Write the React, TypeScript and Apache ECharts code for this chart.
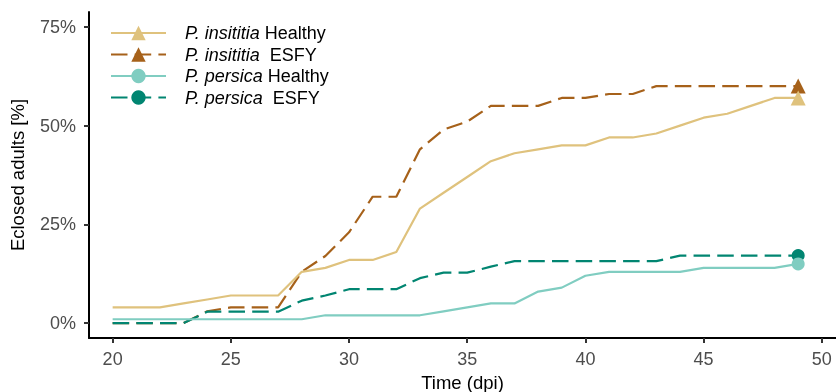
import React, { useEffect, useRef } from "react";
import * as echarts from "echarts";

const days = [20, 21, 22, 23, 24, 25, 26, 27, 28, 29, 30, 31, 32, 33, 34, 35, 36, 37, 38, 39, 40, 41, 42, 43, 44, 45, 46, 47, 48, 49];
const insititiaHealthy = [4, 4, 4, 5, 6, 7, 7, 7, 13, 14, 16, 16, 18, 29, 33, 37, 41, 43, 44, 45, 45, 47, 47, 48, 50, 52, 53, 55, 57, 57];
const insititiaEsfy = [0, 0, 0, 0, 3, 4, 4, 4, 13, 17, 23, 32, 32, 44, 49, 51, 55, 55, 55, 57, 57, 58, 58, 60, 60, 60, 60, 60, 60, 60];
const persicaHealthy = [1, 1, 1, 1, 1, 1, 1, 1, 1, 2, 2, 2, 2, 2, 3, 4, 5, 5, 8, 9, 12, 13, 13, 13, 13, 14, 14, 14, 14, 15];
const persicaEsfy = [0, 0, 0, 0, 2.9, 2.9, 2.9, 2.9, 5.7, 7, 8.6, 8.6, 8.6, 11.4, 12.8, 12.8, 14.3, 15.7, 15.7, 15.7, 15.7, 15.7, 15.7, 15.7, 17.1, 17.1, 17.1, 17.1, 17.1, 17.1];
const yTicks = [0, 25, 50, 75];
const xTicks = [20, 25, 30, 35, 40, 45, 50];

const FONT = "Liberation Sans, Arial, sans-serif";

export default function App() {
  const ref = useRef<HTMLDivElement>(null);
  useEffect(() => {
    const chart = echarts.init(ref.current!, null, { renderer: "svg" });
    const last = days.length - 1;
    const mk = (
      name: string,
      values: number[],
      color: string,
      dashed: boolean,
      symbol: string,
      size: number,
      z: number
    ) => ({
      name,
      type: "line",
      data: values.map((v, i) => [days[i], v]),
      symbol,
      symbolSize: (_v: any, p: any) => (p.dataIndex === last ? size : 0),
      showSymbol: true,
      z,
      itemStyle: { color, opacity: 1 },
      lineStyle: { color, width: 2.2, type: dashed ? [16.5, 7.2] : "solid", cap: "butt" },
      emphasis: { disabled: true },
    });
    chart.setOption({
      animation: false,
      grid: { left: 89, top: 12, width: 747, height: 326, containLabel: false, outerBoundsMode: "none" },
      legend: {
        left: 110,
        top: 24,
        padding: 0,
        orient: "vertical",
        itemWidth: 55,
        itemHeight: 18,
        itemGap: 3.5,
        selectedMode: false,
        data: ["insH", "insE", "perH", "perE"],
        formatter: (n: string) => {
          const m: Record<string, string> = {
            insH: "{s|}{i|P. insititia} Healthy",
            insE: "{s|}{i|P. insititia}  ESFY",
            perH: "{s|}{i|P. persica} Healthy",
            perE: "{s|}{i|P. persica}  ESFY",
          };
          return m[n];
        },
        textStyle: {
          fontFamily: FONT,
          fontSize: 18,
          color: "#000",
          lineHeight: 18,
          rich: {
            s: { width: 14 },
            i: { fontStyle: "italic", fontFamily: FONT, fontSize: 18, color: "#000" },
          },
        },
      },
      xAxis: {
        type: "value",
        min: 19,
        max: 50.6,
        name: "Time (dpi)",
        nameLocation: "middle",
        nameGap: 34,
        nameTextStyle: { fontFamily: FONT, fontSize: 18.5, color: "#000" },
        axisLine: { onZero: false, lineStyle: { color: "#000", width: 2 } },
        axisTick: { customValues: xTicks, length: 5, lineStyle: { color: "#333", width: 2 } },
        axisLabel: { customValues: xTicks, fontFamily: FONT, fontSize: 18, color: "#4D4D4D", margin: 12 },
        splitLine: { show: false },
      },
      yAxis: {
        type: "value",
        min: -3.75,
        max: 78.75,
        name: "Eclosed adults [%]",
        nameLocation: "middle",
        nameGap: 62,
        nameTextStyle: { fontFamily: FONT, fontSize: 18.5, color: "#000" },
        axisLine: { show: true, onZero: false, lineStyle: { color: "#000", width: 2 } },
        axisTick: { show: true, customValues: yTicks, length: 5, lineStyle: { color: "#333", width: 2 } },
        axisLabel: {
          customValues: yTicks,
          fontFamily: FONT,
          fontSize: 18,
          color: "#4D4D4D",
          margin: 13,
          formatter: (v: number) => `${v}%`,
        },
        splitLine: { show: false },
      },
      series: [
        mk("insH", insititiaHealthy, "#DFC27D", false, "triangle", 15, 3),
        mk("insE", insititiaEsfy, "#A6611A", true, "triangle", 15, 2),
        mk("perH", persicaHealthy, "#80CDC1", false, "circle", 13, 5),
        mk("perE", persicaEsfy, "#018571", true, "circle", 13, 4),
      ],
    });
    return () => chart.dispose();
  }, []);
  return <div ref={ref} style={{ position: "fixed", left: 0, top: 0, width: 836, height: 392 }} />;
}
